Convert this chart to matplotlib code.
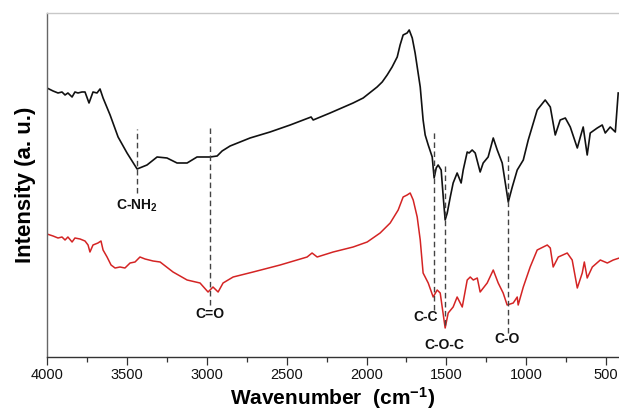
import matplotlib
matplotlib.use("Agg")
import matplotlib.pyplot as plt
from matplotlib.ticker import MultipleLocator

plt.rcParams['font.family'] = ['Liberation Sans', 'DejaVu Sans']
plt.rcParams['mathtext.fontset'] = 'custom'
plt.rcParams['mathtext.rm'] = 'Liberation Sans:bold'
plt.rcParams['mathtext.it'] = 'Liberation Sans:bold'
plt.rcParams['mathtext.bf'] = 'Liberation Sans:bold'

# ---- data (wavenumber in cm-1, intensity in arbitrary units) ----
black_wn = [4000, 3962, 3931, 3906, 3887, 3869, 3843, 3825, 3806, 3781, 3762, 3737, 3712, 3687,
            3668, 3649, 3605, 3555, 3499, 3436, 3374, 3311, 3249, 3186, 3123, 3061, 2979, 2935,
            2904, 2854, 2729, 2604, 2478, 2347, 2334, 2228, 2084, 2021, 1934, 1902, 1871, 1840,
            1808, 1790, 1771, 1746, 1733, 1714, 1696, 1664,
            1646, 1633, 1614, 1589, 1577, 1564, 1552, 1533, 1520, 1508, 1495, 1476, 1458, 1433,
            1408, 1395, 1370, 1358, 1339, 1320, 1289, 1270, 1239, 1207, 1182, 1151, 1113, 1088,
            1057, 1019, 988, 932, 882, 850, 819, 788, 756, 725, 681, 662, 644, 619, 600,
            556, 525, 506, 475, 443, 425]
black_int = [269, 266, 264, 265, 262, 264, 260, 265, 264, 265, 265, 254, 265, 264,
             268, 259, 242, 220, 204, 188, 192, 200, 199, 194, 194, 200, 200, 201,
             206, 211, 219, 225, 232, 240, 237, 244, 254, 259, 270, 275, 282, 290,
             300, 312, 322, 324, 327, 319, 304, 270,
             237, 222, 212, 200, 179, 189, 192, 187, 160, 137, 144, 160, 174, 184,
             174, 187, 205, 204, 207, 204, 185, 194, 200, 219, 207, 194, 155, 170,
             187, 197, 217, 247, 257, 250, 222, 237, 239, 230, 209, 220, 230, 202, 224,
             229, 232, 224, 230, 225, 264]

red_wn = [4000, 3962, 3931, 3906, 3887, 3869, 3843, 3825, 3793, 3762, 3743, 3731, 3712, 3681,
          3662, 3649, 3624, 3599, 3574, 3543, 3512, 3480, 3449, 3418, 3386, 3336, 3292, 3211,
          3123, 3042, 2992, 2961, 2929, 2898, 2835, 2710, 2541, 2372, 2341, 2309, 2209, 2084,
          1996, 1915, 1852, 1802, 1771, 1746, 1727, 1708, 1683, 1664, 1646, 1614, 1583, 1558,
          1539, 1508, 1489, 1458, 1433, 1401, 1370, 1351, 1332, 1307, 1289, 1245, 1207, 1176,
          1145, 1120, 1082, 1057, 1051, 1019, 976, 932, 869, 850, 832, 800, 744, 713, 681,
          650, 637, 619, 587, 537, 493, 456, 418]
red_int = [123, 121, 119, 120, 117, 120, 115, 119, 118, 116, 112, 105, 112, 114,
           116, 107, 100, 92, 89, 90, 89, 94, 95, 100, 98, 96, 95, 85,
           77, 74, 65, 70, 65, 74, 80, 85, 92, 100, 104, 100, 105, 110,
           115, 124, 134, 147, 160, 162, 164, 157, 140, 117, 84, 74, 60, 67,
           64, 29, 44, 50, 60, 50, 77, 80, 77, 79, 65, 74, 87, 74,
           64, 52, 54, 60, 52, 70, 90, 107, 112, 109, 90, 100, 104, 97, 69,
           84, 95, 79, 90, 97, 94, 97, 99]

# band assignments: label, position, dashed-line extent, label anchor
band_labels = ["C-NH$_2$", "C=O", "C-C", "C-O-C", "C-O"]
band_wn = [3437, 2979, 1577, 1510, 1115]
band_lo = [164, 52, 47, 32, 24]
band_hi = [228, 229, 225, 192, 202]
label_wn = [3436, 2979, 1633, 1514, 1120]
label_int = [151, 43, 40, 12, 18]

xticks = [4000, 3500, 3000, 2500, 2000, 1500, 1000, 500]

fig = plt.figure(figsize=(6.19, 4.16), dpi=100)
ax = fig.add_axes([0.0759, 0.1418, 0.9241, 0.827])

ax.plot(black_wn, black_int, color='#111111', lw=1.2)
ax.plot(red_wn, red_int, color='#d42424', lw=1.1)

for wn, lo, hi in zip(band_wn, band_lo, band_hi):
    ax.vlines(wn, lo, hi, colors='#444444', linestyles=(0, (4, 2.5)), lw=1.0)
for lab, x, y in zip(band_labels, label_wn, label_int):
    ax.text(x, y, lab, ha='center', va='center', fontsize=10, fontweight='bold', color='#111111')

ax.set_xlim(4000, 420)
ax.set_ylim(0, 344)
ax.set_xticks(xticks)
ax.set_xticklabels([str(t) for t in xticks])
ax.xaxis.set_minor_locator(MultipleLocator(250))
ax.set_yticks([])
ax.tick_params(axis='x', which='major', direction='out', length=6, width=0.9,
               labelsize=10.5, colors='#333333', pad=2)
ax.tick_params(axis='x', which='minor', direction='out', length=3.5, width=0.9, colors='#333333')
for lbl in ax.get_xticklabels():
    lbl.set_color('#111111')

ax.spines['top'].set_color('#c8c8c8')
ax.spines['left'].set_color('#666666')
ax.spines['bottom'].set_color('#333333')
ax.spines['right'].set_visible(False)
for s in ax.spines.values():
    s.set_linewidth(1.0)

ax.set_ylabel("Intensity (a. u.)", fontsize=16, fontweight='bold', labelpad=8)
ax.set_xlabel(r"Wavenumber  (cm$^{-1}$)", fontsize=15, fontweight='bold', labelpad=2)

fig.savefig("out.png", dpi=100)
